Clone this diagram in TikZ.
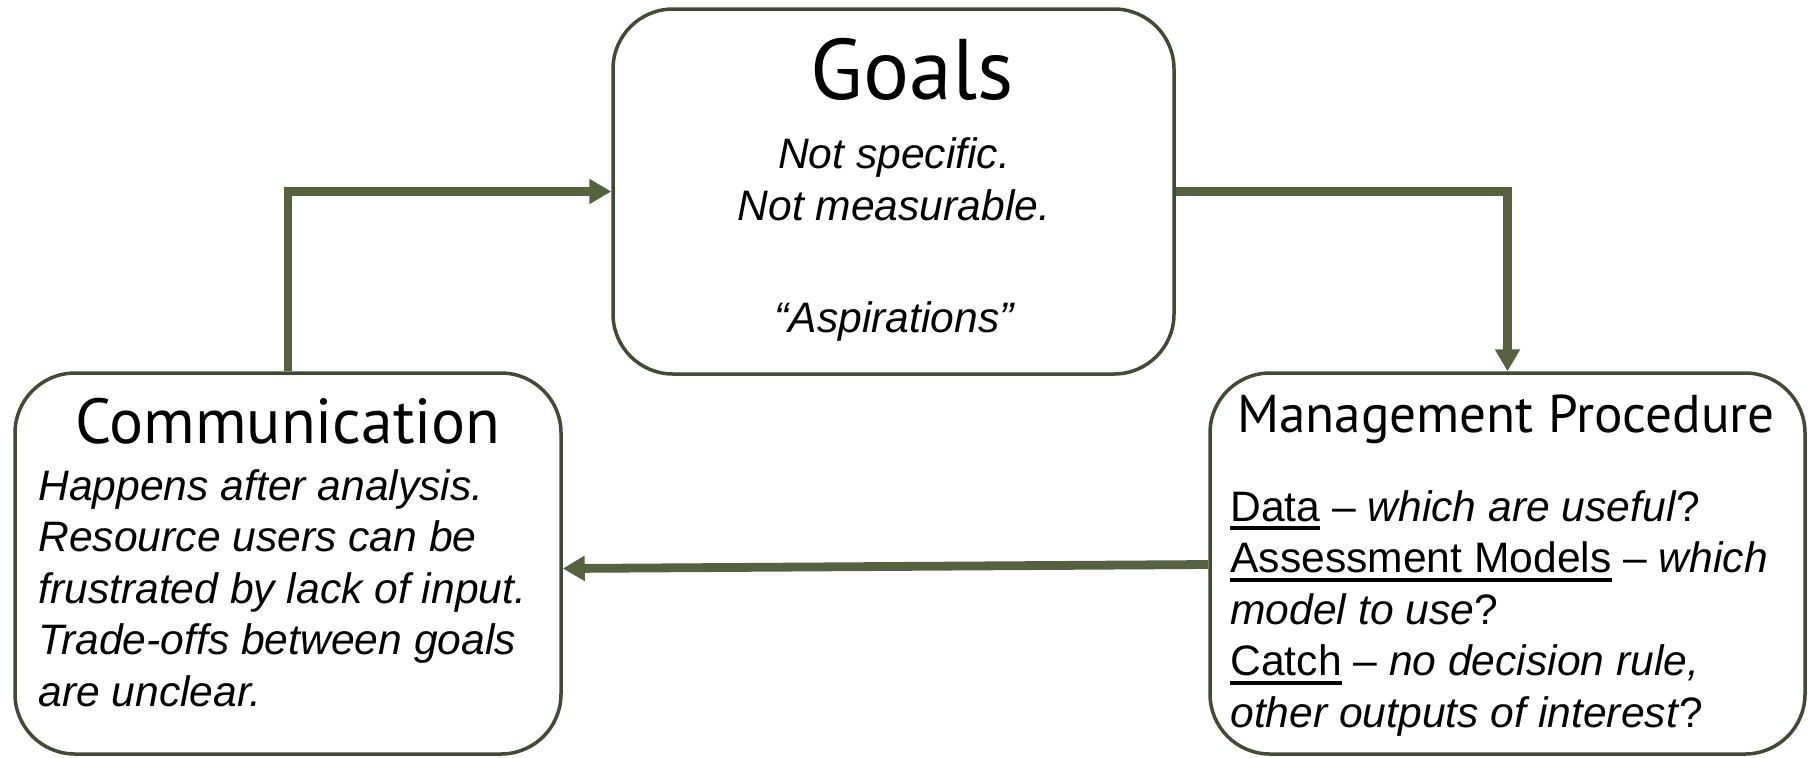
\documentclass[tikz,border=0pt]{standalone}
\usepackage{fontspec}
\setmainfont{Liberation Sans}
\newfontfamily\titlefont{PT Sans}
\usetikzlibrary{arrows.meta}
\definecolor{boxgreen}{HTML}{414B33}
\definecolor{arrowgreen}{HTML}{55613F}
\newcommand{\keyterm}[1]{\setbox0\hbox{#1}\rlap{\rule[-4.5pt]{\wd0}{2pt}}\box0\relax}

\begin{document}
\begin{tikzpicture}[x=0.5pt,y=-0.5pt,
    stage/.style={draw=boxgreen,line width=1.75pt,rounded corners=30pt,fill=white,inner sep=0pt},
    link/.style={draw=arrowgreen,line width=4.4pt,-{Triangle[length=11pt,width=12pt]}},
    heading/.style={font=\titlefont\fontsize{#1}{#1}\selectfont,inner sep=0pt,anchor=base},
    body/.style={font=\fontsize{21.3}{25.7}\selectfont,inner sep=0pt}]
  \useasboundingbox (0,0) rectangle (1814,757);

  % the three boxes
  \node[stage,minimum width=280.5pt,minimum height=182.5pt] (goals) at (893.5,191.5) {};
  \node[stage,minimum width=273pt,minimum height=190.5pt] (comm) at (288,563.5) {};
  \node[stage,minimum width=297.5pt,minimum height=190.5pt] (proc) at (1507.5,563.5) {};

  \draw[link] (comm.north) |- (goals.west);
  \draw[link] (goals.east) -| (proc.north);
  \draw[link] ([yshift=-0.5pt]proc.west) -- ([yshift=-2.5pt]comm.east);

  % goals (base = last line)
  \node[heading=43] (goalsname) at (912,99.5) {Goals};
  \node[body,align=center,anchor=base] (goalstext) at (894,332)
    {\itshape Not specific.\\\itshape Not measurable.\\[30.3pt]\itshape “Aspirations”};

  % communication
  \node[heading=31.8] (commname) at (288,443) {Communication};
  \node[body,align=left,anchor=base west] (commtext) at (38,706)
    {\itshape Happens after analysis.\\\itshape Resource users can be\\\itshape frustrated by lack of input.\\\itshape Trade-offs between goals\\\itshape are unclear.};

  % management procedure
  \node[heading=26.6] (procname) at (1506,432) {Management Procedure};
  \node[body,align=left,anchor=base west] (proctext) at (1230,727)
    {\keyterm{Data} – \textit{which are useful}?\\
     \keyterm{Assessment Models} – \textit{which}\\
     \textit{model to use}?\\
     \keyterm{Catch} – \textit{no decision rule,}\\
     \textit{other outputs of interest}?};
\end{tikzpicture}
\end{document}
